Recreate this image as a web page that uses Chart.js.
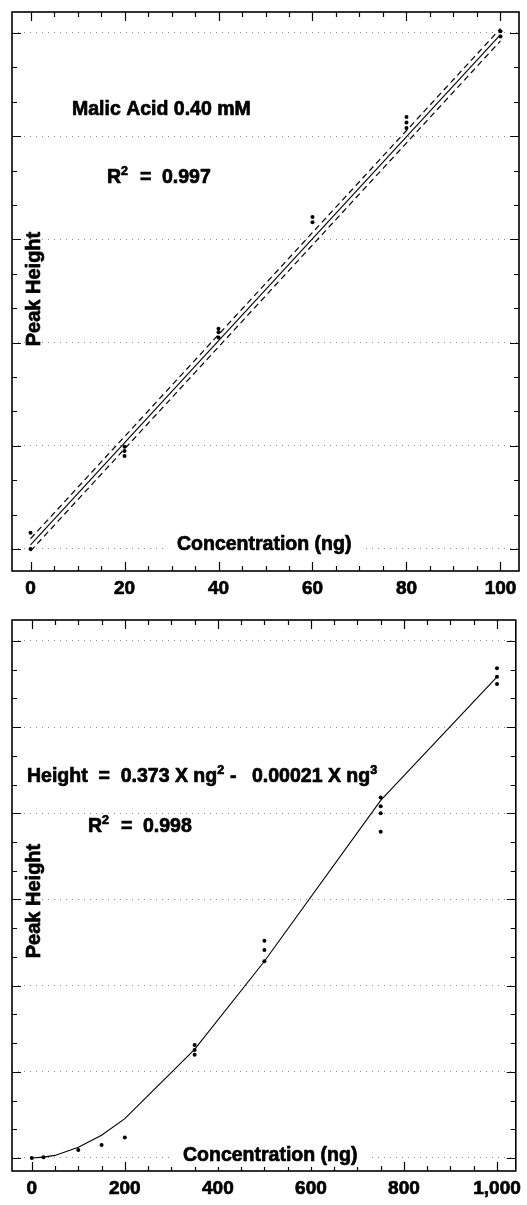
<!DOCTYPE html>
<html><head><meta charset="utf-8">
<script src="https://cdn.jsdelivr.net/npm/chart.js@4.4.1/dist/chart.umd.min.js"></script>
<style>
html,body{margin:0;padding:0;background:#fff;}
body{width:527px;height:1205px;position:relative;overflow:hidden;}
canvas{position:absolute;left:0;}
#c1{top:0;}
#c2{top:605px;}
</style></head><body>
<canvas id="c1" width="527" height="605"></canvas>
<canvas id="c2" width="527" height="600"></canvas>
<script>
// ---------- Top chart data (Malic Acid 0.40 mM) ----------
const topPointX = [0, 0, 20, 20, 20, 40, 40, 40, 60, 60, 80, 80, 80, 100, 100];
const topPointY = [0, 4.7, 29.7, 28.5, 27.0, 61.5, 63, 64, 95, 96.5, 122.4, 124, 125.6, 149, 150.5];
const topFitX = [0, 100];
const topFitY = [1.2, 149.5];
const topUpperY = [3.0, 151.3];
const topLowerY = [-0.6, 147.7];
const topXTicks = [0,5,10,15,20,25,30,35,40,45,50,55,60,65,70,75,80,85,90,95,100];
const topXMajor = [0, 20, 40, 60, 80, 100];
const topXLabels = ['0', '20', '40', '60', '80', '100'];
const topYTicks = [0,10,20,30,40,50,60,70,80,90,100,110,120,130,140,150];
const topYMajor = [0, 30, 60, 90, 120, 150];

// ---------- Bottom chart data ----------
const botPointX = [0, 25, 100, 150, 200, 350, 350, 350, 500, 500, 500, 750, 750, 750, 750, 1000, 1000, 1000];
const botPointY = [0, 0.3, 2.8, 4.5, 7.1, 35.9, 37.6, 39.3, 68.5, 72.4, 75.6, 113.6, 120, 122.5, 125.5, 165, 167.5, 170.5];
const botFitX = [0, 25, 50, 100, 150, 200, 350, 500, 750, 1000];
const botFitY = [0, 0.3, 0.9, 3.7, 7.9, 13.7, 37.8, 68.5, 124.5, 167.5];
const botXTicks = [0,50,100,150,200,250,300,350,400,450,500,550,600,650,700,750,800,850,900,950,1000];
const botXMajor = [0, 200, 400, 600, 800, 1000];
const botXLabels = ['0', '200', '400', '600', '800', '1,000'];
const botYTicks = [0,10,20,30,40,50,60,70,80,90,100,110,120,130,140,150,160,170,180];
const botYMajor = [0, 30, 60, 90, 120, 150, 180];

const FONT = "'Liberation Sans', Arial, Helvetica, sans-serif";
const STROKE = 0.7;

function pts(xs, ys) { return xs.map((x, i) => ({x: x, y: ys[i]})); }

function drawRun(ctx, x, y, parts) {
  let cx = x;
  for (const p of parts) {
    if (p[3] !== undefined) cx = p[3];
    ctx.font = 'bold ' + p[1] + 'px ' + FONT;
    ctx.fillText(p[0], cx, y + (p[2] || 0));
    ctx.strokeText(p[0], cx, y + (p[2] || 0));
    cx += ctx.measureText(p[0]).width;
  }
  return cx;
}

const framePlugin = {
  id: 'frame',
  afterDraw(chart, args, o) {
    const ctx = chart.ctx, a = chart.chartArea, xs = chart.scales.x, ys = chart.scales.y;
    ctx.save();
    ctx.strokeStyle = '#000';
    ctx.lineWidth = 1.6;
    ctx.strokeRect(a.left, a.top, a.right - a.left, a.bottom - a.top);
    ctx.lineWidth = 1.2;
    ctx.beginPath();
    for (const v of o.xTicks) {
      const px = Math.round(xs.getPixelForValue(v)) + 0.5;
      const L = o.xMajor.includes(v) ? 9 : 5;
      ctx.moveTo(px, a.bottom); ctx.lineTo(px, a.bottom - L);
      ctx.moveTo(px, a.top); ctx.lineTo(px, a.top + L);
    }
    for (const v of o.yTicks) {
      const py = Math.round(ys.getPixelForValue(v)) + 0.5;
      const L = o.yMajor.includes(v) ? 9 : 5;
      ctx.moveTo(a.left, py); ctx.lineTo(a.left + L, py);
      ctx.moveTo(a.right, py); ctx.lineTo(a.right - L, py);
    }
    ctx.stroke();
    ctx.fillStyle = '#000';
    ctx.strokeStyle = '#000';
    ctx.lineWidth = STROKE;
    ctx.lineJoin = 'round';
    ctx.textBaseline = 'alphabetic';
    ctx.textAlign = 'left';
    for (const n of o.notes) {
      if (n.rotate) {
        ctx.save();
        ctx.translate(n.x, n.y);
        ctx.rotate(-Math.PI / 2);
        ctx.textAlign = 'center';
        ctx.textBaseline = 'middle';
        ctx.font = 'bold ' + n.size + 'px ' + FONT;
        ctx.fillText(n.text, 0, 0);
        ctx.strokeText(n.text, 0, 0);
        ctx.restore();
        continue;
      }
      if (n.clear) {
        let w = 0;
        for (const p of n.parts) { ctx.font = 'bold ' + p[1] + 'px ' + FONT; w += ctx.measureText(p[0]).width; }
        ctx.fillStyle = '#fff';
        ctx.fillRect(n.x - 14, n.y - 18, w + 28, 24);
        ctx.fillStyle = '#000';
      }
      drawRun(ctx, n.x, n.y, n.parts);
    }
    ctx.restore();
  }
};

function makeChart(id, cfg) {
  return new Chart(document.getElementById(id), {
    type: 'scatter',
    data: { datasets: cfg.datasets },
    options: {
      responsive: false,
      animation: false,
      events: [],
      layout: { padding: cfg.padding },
      plugins: { legend: { display: false }, tooltip: { enabled: false }, frame: cfg.frame },
      scales: {
        x: {
          type: 'linear', min: cfg.xMin, max: cfg.xMax,
          afterBuildTicks: s => { s.ticks = cfg.xMajor.map(v => ({value: v})); },
          afterFit: s => { s.height = 34; },
          grid: { display: false, drawTicks: false },
          border: { display: false },
          ticks: {
            autoSkip: false, maxRotation: 0, padding: 6, color: '#000',
            textStrokeColor: '#000', textStrokeWidth: STROKE,
            font: { family: FONT, size: 19, weight: 'bold' },
            callback: (v, i) => cfg.xLabels[i]
          }
        },
        y: {
          type: 'linear', min: cfg.yMin, max: cfg.yMax,
          afterBuildTicks: s => { s.ticks = cfg.yMajor.map(v => ({value: v})); },
          afterFit: s => { s.width = 0; },
          ticks: { display: false },
          grid: { drawTicks: false, color: 'rgba(0,0,0,0.45)', lineWidth: 1 },
          border: { display: false, dash: [1, 5] }
        }
      }
    },
    plugins: [framePlugin]
  });
}

const lineStyle = { showLine: true, pointRadius: 0, borderColor: '#000', backgroundColor: '#000', fill: false };
const pointStyle = { showLine: false, pointRadius: 2, pointBorderWidth: 0, pointBackgroundColor: '#000', borderColor: '#000', backgroundColor: '#000' };

makeChart('c1', {
  padding: { left: 12, right: 8, top: 12, bottom: 0 },
  xMin: -3.94, xMax: 103.94, yMin: -6.4, yMax: 156.1,
  xMajor: topXMajor, xLabels: topXLabels, yMajor: topYMajor,
  datasets: [
    Object.assign({ data: pts(topFitX, topFitY), borderWidth: 1.1 }, lineStyle),
    Object.assign({ data: pts(topFitX, topUpperY), borderWidth: 1.2, borderDash: [6, 4] }, lineStyle),
    Object.assign({ data: pts(topFitX, topLowerY), borderWidth: 1.2, borderDash: [6, 4] }, lineStyle),
    Object.assign({ data: pts(topPointX, topPointY) }, pointStyle)
  ],
  frame: {
    xTicks: topXTicks, xMajor: topXMajor, yTicks: topYTicks, yMajor: topYMajor,
    notes: [
      { x: 72, y: 115, parts: [['Malic Acid 0.40 mM', 19.5]] },
      { x: 107, y: 183, parts: [['R', 19.5], ['2', 12.5, -8], ['=', 19.5, 0, 140], ['0.997', 19.5, 0, 162]] },
      { rotate: true, x: 34.5, y: 289, size: 20, text: 'Peak Height' },
      { x: 177, y: 550, clear: true, parts: [['Concentration (ng)', 19.5]] }
    ]
  }
});

makeChart('c2', {
  padding: { left: 12, right: 6, top: 15, bottom: 0 },
  xMin: -42.55, xMax: 1040.4, yMin: -4.53, yMax: 187.3,
  xMajor: botXMajor, xLabels: botXLabels, yMajor: botYMajor,
  datasets: [
    Object.assign({ data: pts(botFitX, botFitY), borderWidth: 1.1 }, lineStyle),
    Object.assign({ data: pts(botPointX, botPointY) }, pointStyle)
  ],
  frame: {
    xTicks: botXTicks, xMajor: botXMajor, yTicks: botYTicks, yMajor: botYMajor,
    notes: [
      { x: 27, y: 177, parts: [['Height  =  0.373 X ng', 19.5], ['2', 12.5, -8], ['-', 19.5, 0, 230], ['0.00021 X ng', 19.5, 0, 252], ['3', 12.5, -8]] },
      { x: 88, y: 227, parts: [['R', 19.5], ['2', 12.5, -8], ['=', 19.5, 0, 121], ['0.998', 19.5, 0, 143]] },
      { rotate: true, x: 34.5, y: 296, size: 20, text: 'Peak Height' },
      { x: 183, y: 556, clear: true, parts: [['Concentration (ng)', 19.5]] }
    ]
  }
});
</script>
</body></html>
